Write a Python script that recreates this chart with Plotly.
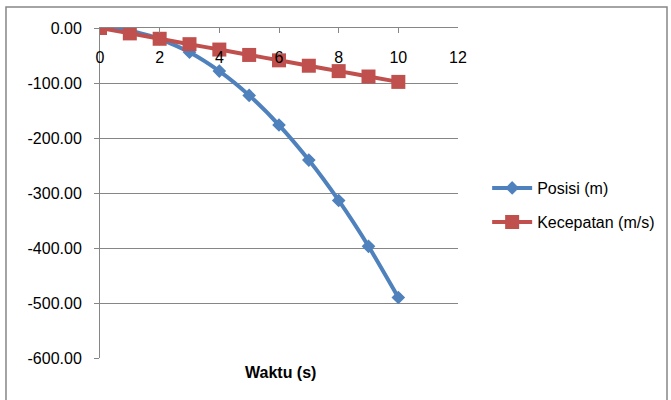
import plotly.graph_objects as go

waktu = [0, 1, 2, 3, 4, 5, 6, 7, 8, 9, 10]
posisi = [0, -4.9, -19.6, -44.1, -78.4, -122.5, -176.4, -240.1, -313.6, -396.9, -490.0]
kecepatan = [0, -9.8, -19.6, -29.4, -39.2, -49.0, -58.8, -68.6, -78.4, -88.2, -98.0]

y_ticks = [0, -100, -200, -300, -400, -500, -600]
y_labels = ["0.00", "-100.00", "-200.00", "-300.00", "-400.00", "-500.00", "-600.00"]
x_ticks = [0, 2, 4, 6, 8, 10, 12]
x_labels = ["0", "2", "4", "6", "8", "10", "12"]

blue = "#4F81BD"
red = "#C0504D"
axis_col = "#868686"
font_family = "Liberation Sans"
fs = 16

fig = go.Figure()
fig.add_trace(go.Scatter(
    x=waktu, y=posisi, name="Posisi (m)", mode="lines+markers",
    line=dict(color=blue, width=4, shape="spline", smoothing=0.6),
    marker=dict(symbol="diamond", size=10.5, color=blue),
    legend="legend", showlegend=True,
))
fig.add_trace(go.Scatter(
    x=waktu, y=kecepatan, name="Kecepatan (m/s)", mode="lines+markers",
    line=dict(color=red, width=4, shape="spline", smoothing=0.6),
    marker=dict(symbol="square", size=14, color=red),
    legend="legend2", showlegend=True, xaxis="x2",
))

fig.update_layout(
    width=671, height=400,
    margin=dict(l=100, r=213, t=28, b=42),
    paper_bgcolor="white", plot_bgcolor="white",
    showlegend=True,
    font=dict(family=font_family, size=fs, color="#000000"),
    legend=dict(xref="container", yref="container", x=0.726, y=0.53,
                xanchor="left", yanchor="middle", itemwidth=40,
                font=dict(size=fs), bgcolor="rgba(0,0,0,0)"),
    legend2=dict(xref="container", yref="container", x=0.726, y=0.445,
                 xanchor="left", yanchor="middle", itemwidth=40,
                 font=dict(size=fs), bgcolor="rgba(0,0,0,0)"),
    xaxis=dict(
        range=[0, 12], tickvals=x_ticks, side="top",
        showticklabels=False,
        ticks="inside", ticklen=5, tickcolor=axis_col,
        showline=True, linecolor=axis_col, linewidth=1,
        showgrid=False, zeroline=False, automargin=False,
    ),
    xaxis2=dict(
        range=[0, 12], tickvals=x_ticks, ticktext=x_labels,
        overlaying="x", anchor="free", position=0.945, side="bottom",
        ticks="", showline=False, showgrid=False, zeroline=False,
        automargin=False, tickfont=dict(size=fs),
    ),
    yaxis=dict(
        range=[-600, 0], tickvals=y_ticks, ticktext=y_labels,
        ticks="outside", ticklen=5, tickcolor=axis_col,
        showline=True, linecolor=axis_col, linewidth=1,
        showgrid=True, gridcolor=axis_col, gridwidth=1,
        zeroline=False, tickfont=dict(size=fs), automargin=False,
        ticklabelstandoff=9,
    ),
    annotations=[dict(
        text="<b>Waktu (s)</b>", x=0.503, y=-0.045, xref="paper", yref="paper",
        showarrow=False, xanchor="center", yanchor="middle",
        font=dict(size=fs, family=font_family),
    )],
    shapes=[dict(
        type="rect", xref="paper", yref="paper",
        x0=-0.2626, x1=1.5838, y0=-0.135, y1=1.0636,
        line=dict(color=axis_col, width=1.5), layer="below",
    )],
)

fig.write_html("out.html", config={"displayModeBar": False},
               post_script="document.body.style.margin='0';")
